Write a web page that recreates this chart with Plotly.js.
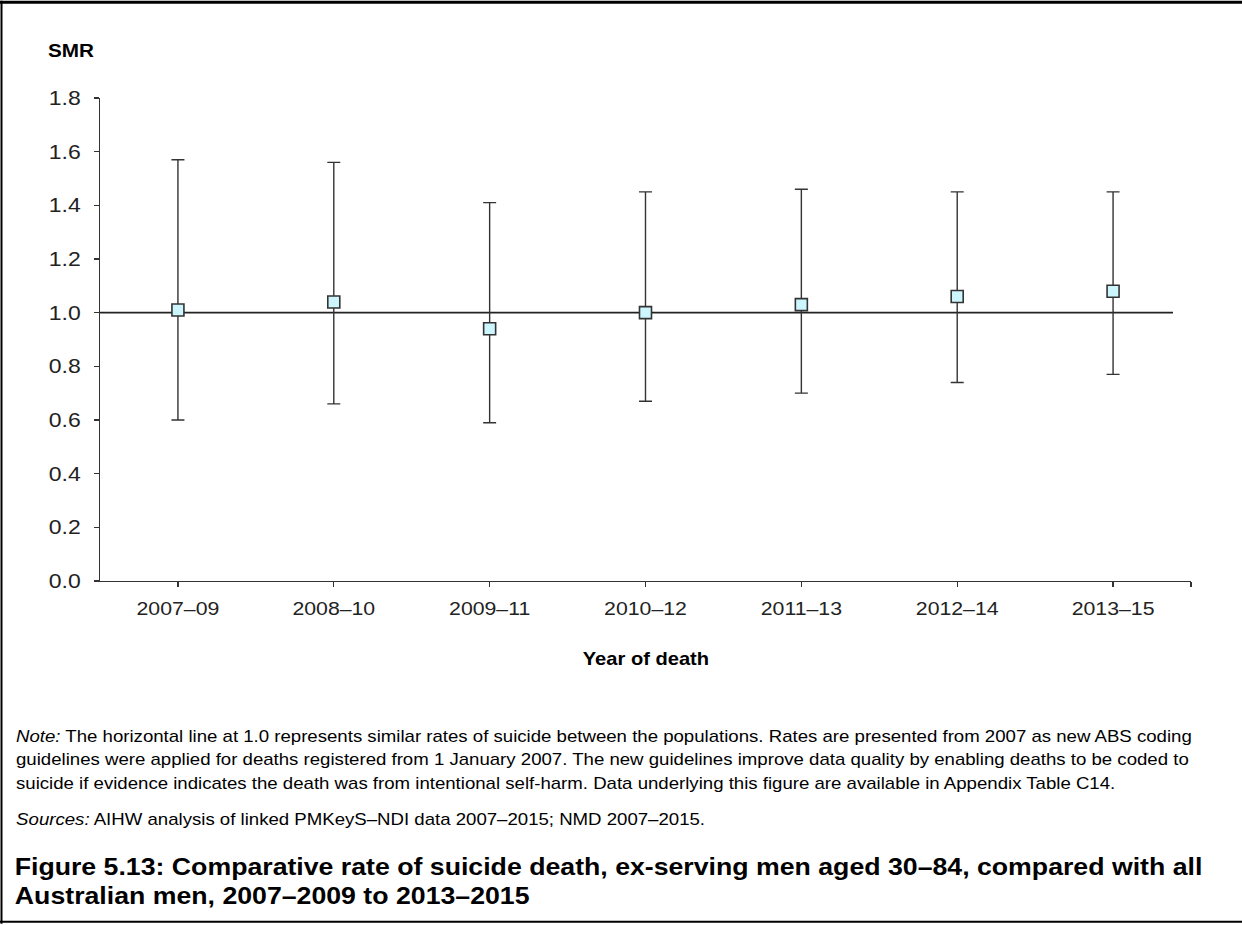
<!DOCTYPE html>
<html>
<head>
<meta charset="utf-8">
<script src="https://cdn.plot.ly/plotly-3.0.1.min.js"></script>
<style>
  html, body { margin: 0; padding: 0; background: #fff; }
  #chart { width: 1242px; height: 925px; }
</style>
</head>
<body>
<div id="chart"></div>
<script>
// ---- data ----
const categories = ['2007–09', '2008–10', '2009–11', '2010–12', '2011–13', '2012–14', '2013–15'];
const smr   = [1.01, 1.04, 0.94, 1.00, 1.03, 1.06, 1.08];
const upper = [1.57, 1.56, 1.41, 1.45, 1.46, 1.45, 1.45];
const lower = [0.60, 0.66, 0.59, 0.67, 0.70, 0.74, 0.77];
const referenceValue = 1.0;
const yTickValues = [0, 0.2, 0.4, 0.6, 0.8, 1.0, 1.2, 1.4, 1.6, 1.8];

const noteLines = [
  '<i>Note:</i> The horizontal line at 1.0 represents similar rates of suicide between the populations. Rates are presented from 2007 as new ABS coding',
  'guidelines were applied for deaths registered from 1 January 2007. The new guidelines improve data quality by enabling deaths to be coded to',
  'suicide if evidence indicates the death was from intentional self-harm. Data underlying this figure are available in Appendix Table C14.'
];
const sourcesText = '<i>Sources:</i> AIHW analysis of linked PMKeyS–NDI data 2007–2015; NMD 2007–2015.';
const titleLines = [
  'Figure 5.13: Comparative rate of suicide death, ex-serving men aged 30–84, compared with all',
  'Australian men, 2007–2009 to 2013–2015'
];

// ---- layout helpers (pixel -> paper) ----
const W = 1242, H = 925;
const L = 100, R = 1191, T = 97.5, B = 581.5;
const px = v => (v - L) / (R - L);
const py = v => (B - v) / (B - T);

const FONT = 'Arial, "Liberation Sans", sans-serif';
const STRETCH = 1.15; // the reference typeface is set slightly wide
const xIdx = categories.map((c, i) => i);

const trace = {
  type: 'scatter',
  mode: 'markers',
  x: xIdx,
  y: smr,
  marker: { symbol: 'square', size: 12, color: '#ccf5fd', line: { color: '#333333', width: 1.6 } },
  error_y: {
    type: 'data',
    symmetric: false,
    array: upper.map((u, i) => u - smr[i]),
    arrayminus: lower.map((l, i) => smr[i] - l),
    color: '#333333',
    thickness: 1.4,
    width: 6.5
  },
  hoverinfo: 'x+y',
  showlegend: false
};

const ann = [];
const anchors = [];
ann.push({ xref: 'paper', yref: 'paper', x: px(46), y: py(50), xanchor: 'left', yanchor: 'middle',
  text: '<b>SMR</b>', showarrow: false, font: { family: FONT, size: 18, color: '#000' } });
anchors.push('left');
ann.push({ xref: 'paper', yref: 'paper', x: 0.5, y: py(660), xanchor: 'center', yanchor: 'middle',
  text: '<b>Year of death</b>', showarrow: false, font: { family: FONT, size: 17.5, color: '#000' } });
anchors.push('center');
const noteY = [737, 760, 784];
noteLines.forEach((t, i) => { ann.push({ xref: 'paper', yref: 'paper', x: px(14), y: py(noteY[i]),
  xanchor: 'left', yanchor: 'middle', text: t, showarrow: false, align: 'left',
  font: { family: FONT, size: 16.2, color: '#000' } }); anchors.push('left'); });
ann.push({ xref: 'paper', yref: 'paper', x: px(14), y: py(820), xanchor: 'left', yanchor: 'middle',
  text: sourcesText, showarrow: false, font: { family: FONT, size: 16.2, color: '#000' } });
anchors.push('left');
const titleY = [868, 897];
titleLines.forEach((t, i) => { ann.push({ xref: 'paper', yref: 'paper', x: px(13), y: py(titleY[i]),
  xanchor: 'left', yanchor: 'middle', text: '<b>' + t + '</b>', showarrow: false,
  font: { family: FONT, size: 23.2, color: '#000' } }); anchors.push('left'); });

const shapes = [
  // reference line at SMR = 1.0
  { type: 'line', xref: 'paper', yref: 'y', x0: 0, x1: px(1173), y0: referenceValue, y1: referenceValue,
    line: { color: '#222', width: 1.6 }, layer: 'below' },
  // page frame: top, left, bottom
  { type: 'line', xref: 'paper', yref: 'paper', x0: px(0), x1: px(W), y0: py(1.5), y1: py(1.5),
    line: { color: '#000', width: 3 } },
  { type: 'line', xref: 'paper', yref: 'paper', x0: px(1.5), x1: px(1.5), y0: py(0), y1: py(H),
    line: { color: '#000', width: 2 } },
  { type: 'line', xref: 'paper', yref: 'paper', x0: px(0), x1: px(W), y0: py(923), y1: py(923),
    line: { color: '#000', width: 2 } }
];

const layout = {
  width: W, height: H,
  margin: { l: L, r: W - R, t: T, b: H - B, pad: 0 },
  paper_bgcolor: '#fff', plot_bgcolor: '#fff',
  showlegend: false,
  xaxis: {
    range: [-0.5, 6.5],
    tickmode: 'array',
    tickvals: xIdx.concat([6.5]),
    ticktext: categories.concat(['']),
    ticks: 'outside', ticklen: 5, tickwidth: 1.3, tickcolor: '#333',
    showline: true, linecolor: '#333', linewidth: 1.3,
    showgrid: false, zeroline: false,
    tickfont: { family: FONT, size: 18.5, color: '#222' },
    ticklabelstandoff: 6,
    fixedrange: true
  },
  yaxis: {
    range: [0, 1.8],
    tickmode: 'array',
    tickvals: yTickValues,
    ticktext: yTickValues.map(v => v.toFixed(1)),
    ticks: 'outside', ticklen: 5, tickwidth: 1.3, tickcolor: '#333',
    showline: true, linecolor: '#333', linewidth: 1.3,
    showgrid: false, zeroline: false,
    tickfont: { family: FONT, size: 20, color: '#222' },
    ticklabelstandoff: 9,
    fixedrange: true
  },
  annotations: ann,
  shapes: shapes
};

function stretchText(el, s, anchor) {
  const bb = el.getBBox();
  const ox = anchor === 'left' ? bb.x : anchor === 'right' ? bb.x + bb.width : bb.x + bb.width / 2;
  const prev = el.getAttribute('transform') || '';
  el.setAttribute('transform', prev + ' translate(' + ox + ',0) scale(' + s + ',1) translate(' + (-ox) + ',0)');
}

Plotly.newPlot('chart', [trace], layout, { displayModeBar: false, staticPlot: true }).then(gd => {
  gd.querySelectorAll('g.annotation').forEach(g => {
    const idx = +g.getAttribute('data-index');
    const t = g.querySelector('text.annotation-text');
    if (t) stretchText(t, STRETCH, anchors[idx] || 'left');
  });
  gd.querySelectorAll('g.xtick text').forEach(t => stretchText(t, STRETCH, 'center'));
  gd.querySelectorAll('g.ytick text').forEach(t => stretchText(t, STRETCH, 'right'));
});
</script>
</body>
</html>
